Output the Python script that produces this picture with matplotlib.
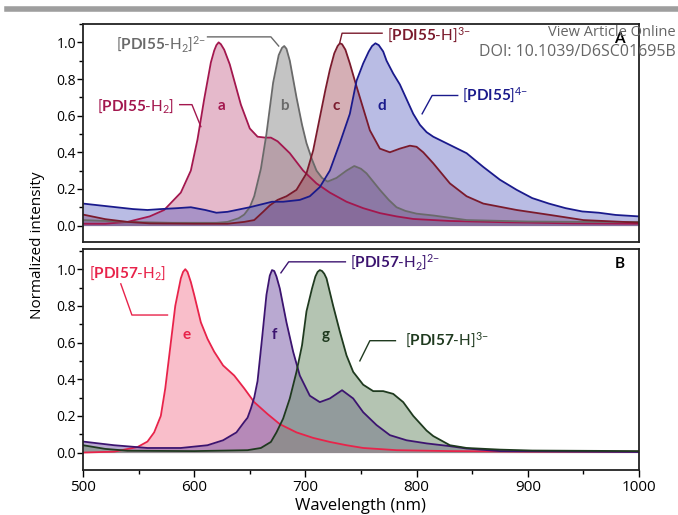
import numpy as np
import matplotlib
matplotlib.use("Agg")
from matplotlib import pyplot as plt
from matplotlib.ticker import MultipleLocator

plt.rcParams['font.family'] = ['Open Sans', 'DejaVu Sans']
plt.rcParams['mathtext.fontset'] = 'custom'
plt.rcParams['mathtext.rm'] = 'Lato'
plt.rcParams['mathtext.it'] = 'Lato:italic'
plt.rcParams['mathtext.bf'] = 'Lato:bold'

# ---- panel A: PDI55 species ----
wl_a = [500, 520, 540, 560, 573, 588, 597, 603, 609, 615, 618, 620, 622, 624, 627, 632, 637, 642, 650, 657,
        664, 669, 675, 686, 698, 710, 722, 737, 752, 767, 782, 797, 830, 880, 940, 1000]
int_a = [0.01, 0.01, 0.02, 0.05, 0.085, 0.18, 0.30, 0.47, 0.69, 0.89, 0.955, 0.985, 1.0, 0.99, 0.96, 0.88, 0.77, 0.66, 0.53, 0.485,
         0.48, 0.48, 0.46, 0.395, 0.30, 0.23, 0.18, 0.13, 0.095, 0.068, 0.05, 0.036, 0.025, 0.018, 0.012, 0.01]

wl_b = [500, 540, 580, 620, 630, 640, 645, 650, 654, 660, 665, 671, 676, 679, 681, 683, 686, 692, 697, 701, 706, 710,
        715, 720, 728, 737, 744, 750, 755, 761, 767, 775, 782, 790, 800, 815, 845, 900, 950, 1000]
int_b = [0.03, 0.02, 0.015, 0.015, 0.02, 0.04, 0.06, 0.10, 0.16, 0.31, 0.50, 0.78, 0.93, 0.97, 0.98, 0.965, 0.90, 0.70, 0.55, 0.45, 0.36, 0.30,
         0.26, 0.24, 0.26, 0.30, 0.325, 0.31, 0.285, 0.24, 0.195, 0.14, 0.10, 0.08, 0.065, 0.055, 0.03, 0.022, 0.02, 0.02]

wl_c = [500, 520, 540, 560, 600, 630, 645, 654, 662, 668, 675, 683, 692, 701, 707, 713, 718, 722, 726, 729, 731,
        733, 736, 740, 745, 749, 758, 767, 776, 785, 794, 800, 806, 815, 830, 845, 860, 890, 920, 950, 1000]
int_c = [0.06, 0.035, 0.02, 0.012, 0.01, 0.01, 0.02, 0.03, 0.075, 0.11, 0.14, 0.16, 0.195, 0.285, 0.41, 0.59, 0.74, 0.85, 0.94, 0.98, 0.995,
         0.99, 0.96, 0.885, 0.78, 0.70, 0.52, 0.42, 0.40, 0.42, 0.436, 0.43, 0.40, 0.34, 0.23, 0.16, 0.12, 0.085, 0.058, 0.03, 0.016]

wl_d = [500, 515, 530, 545, 558, 570, 585, 597, 610, 620, 630, 642, 650, 660, 670, 680, 695, 704, 713, 722,
        731, 740, 746, 752, 757, 760, 763, 766, 770, 773, 779, 785, 791, 797, 803, 809, 815, 830, 845, 860, 875, 890,
        904, 919, 934, 949, 964, 979, 1000]
int_d = [0.12, 0.11, 0.10, 0.09, 0.085, 0.09, 0.095, 0.10, 0.085, 0.07, 0.075, 0.09, 0.10, 0.115, 0.13, 0.13, 0.14, 0.16, 0.21, 0.30,
         0.45, 0.61, 0.79, 0.885, 0.95, 0.98, 0.995, 0.985, 0.95, 0.90, 0.83, 0.77, 0.69, 0.61, 0.55, 0.51, 0.485, 0.44, 0.395, 0.32, 0.25, 0.195,
         0.15, 0.12, 0.095, 0.077, 0.07, 0.058, 0.05]

# ---- panel B: PDI57 species ----
wl_e = [500, 528, 549, 558, 564, 570, 574, 579, 583, 588, 590, 592, 594, 597, 600, 606, 612, 618, 626, 636, 645, 654,
        666, 677, 692, 707, 722, 737, 752, 782, 830, 900, 1000]
int_e = [0.0, 0.005, 0.03, 0.06, 0.11, 0.20, 0.35, 0.60, 0.80, 0.95, 0.985, 1.0, 0.985, 0.93, 0.86, 0.71, 0.62, 0.55, 0.475, 0.42, 0.35, 0.275,
         0.21, 0.155, 0.11, 0.08, 0.058, 0.04, 0.025, 0.013, 0.008, 0.005, 0.005]

wl_f = [500, 528, 558, 588, 612, 626, 638, 645, 648, 651, 654, 657, 661, 665, 668, 670, 672, 674, 677, 683, 689, 695,
        704, 713, 722, 733, 743, 752, 764, 776, 791, 809, 830, 845, 875, 1000]
int_f = [0.06, 0.04, 0.025, 0.025, 0.04, 0.067, 0.11, 0.167, 0.19, 0.24, 0.30, 0.39, 0.62, 0.86, 0.965, 0.995, 0.99, 0.96, 0.895, 0.71, 0.55, 0.42,
         0.31, 0.275, 0.295, 0.34, 0.295, 0.22, 0.15, 0.095, 0.067, 0.05, 0.035, 0.022, 0.008, 0.003]

wl_g = [500, 520, 540, 600, 648, 660, 669, 674, 680, 686, 692, 697, 701, 706, 709, 711, 713, 715, 717, 719, 725, 731,
        737, 743, 752, 761, 770, 779, 788, 797, 809, 815, 830, 845, 875, 904, 1000]
int_g = [0.04, 0.02, 0.01, 0.008, 0.013, 0.025, 0.058, 0.11, 0.185, 0.295, 0.44, 0.585, 0.77, 0.895, 0.96, 0.985, 0.995, 0.99, 0.975, 0.95, 0.80, 0.66,
         0.53, 0.44, 0.37, 0.335, 0.335, 0.32, 0.275, 0.20, 0.12, 0.09, 0.04, 0.025, 0.016, 0.011, 0.008]

yticks = [0.0, 0.2, 0.4, 0.6, 0.8, 1.0]
xticks = [500, 600, 700, 800, 900, 1000]

series_top = [
    (wl_a, int_a, '#a3174e', '#c25a84', 0.42),
    (wl_b, int_b, '#6a6a6a', '#858585', 0.48),
    (wl_c, int_c, '#7a1a2c', '#963848', 0.40),
    (wl_d, int_d, '#1a1a8c', '#5a60c0', 0.42),
]
series_bot = [
    (wl_e, int_e, '#e8234a', '#f58aa0', 0.55),
    (wl_f, int_f, '#3c1470', '#7a5aa8', 0.52),
    (wl_g, int_g, '#1f3a1f', '#6f8f6c', 0.52),
]

fig = plt.figure(figsize=(6.78, 5.15), dpi=100)
ax1 = fig.add_axes([0.1224, 0.530, 0.820, 0.4233])
ax2 = fig.add_axes([0.1224, 0.0874, 0.820, 0.4291])

for ax, series in ((ax1, series_top), (ax2, series_bot)):
    for wl, val, lc, fc, al in series:
        ax.fill_between(wl, val, 0, color=fc, alpha=al, lw=0)
        ax.plot(wl, val, color=lc, lw=1.3)
    ax.set_xlim(500, 1000)
    ax.set_yticks(yticks)
    ax.yaxis.set_minor_locator(MultipleLocator(0.1))
    ax.tick_params(axis='y', which='major', direction='out', length=4, width=1, labelsize=10, pad=1)
    ax.tick_params(axis='y', which='minor', direction='out', length=3, width=1)
    ax.set_yticklabels(['%.1f' % t for t in yticks])
    for sp in ax.spines.values():
        sp.set_linewidth(1.3)
        sp.set_color('#222222')

ax1.set_ylim(-0.09, 1.10)
ax2.set_ylim(-0.095, 1.11)
ax1.set_xticks([])
ax2.set_xticks(xticks)
ax2.xaxis.set_minor_locator(MultipleLocator(50))
ax2.tick_params(axis='x', which='major', direction='out', length=5, width=1, labelsize=11, pad=2)
ax2.tick_params(axis='x', which='minor', direction='out', length=3, width=1)

# letters on peaks
fs = 11
ax1.text(625, 0.65, 'a', color='#a3174e', fontsize=fs, fontweight='bold', family='Lato', ha='center', va='center')
ax1.text(681, 0.65, 'b', color='#6a6a6a', fontsize=fs, fontweight='bold', family='Lato', ha='center', va='center')
ax1.text(728, 0.65, 'c', color='#7a1a2c', fontsize=fs, fontweight='bold', family='Lato', ha='center', va='center')
ax1.text(769, 0.65, 'd', color='#1a1a8c', fontsize=fs, fontweight='bold', family='Lato', ha='center', va='center')
ax2.text(593, 0.64, 'e', color='#e8234a', fontsize=fs, fontweight='bold', family='Lato', ha='center', va='center')
ax2.text(672, 0.64, 'f', color='#3c1470', fontsize=fs, fontweight='bold', family='Lato', ha='center', va='center')
ax2.text(718, 0.64, 'g', color='#1f3a1f', fontsize=fs, fontweight='bold', family='Lato', ha='center', va='center')

ax1.text(0.965, 0.93, 'A', transform=ax1.transAxes, fontsize=11, fontweight='bold', family='Lato', ha='center', va='center')
ax2.text(0.965, 0.93, 'B', transform=ax2.transAxes, fontsize=11, fontweight='bold', family='Lato', ha='center', va='center')

# species labels with leader lines (data coordinates)
lfs = 11
ax1.text(530, 0.99, r'[$\mathbf{PDI55}$-H$_2$]$^{2{-}}$', color='#6a6a6a', fontsize=lfs, family='Lato', ha='left', va='center')
ax1.plot([612, 669, 676], [1.03, 1.03, 0.98], color='#6a6a6a', lw=1)
ax1.text(773, 1.04, r'[$\mathbf{PDI55}$-H]$^{3{-}}$', color='#7a1a2c', fontsize=lfs, family='Lato', ha='left', va='center')
ax1.plot([769, 733, 731], [1.05, 1.05, 1.00], color='#7a1a2c', lw=1)
ax1.text(513, 0.65, r'[$\mathbf{PDI55}$-H$_2$]', color='#a3174e', fontsize=lfs, family='Lato', ha='left', va='center')
ax1.plot([587, 598, 606], [0.66, 0.66, 0.54], color='#a3174e', lw=1)
ax1.text(841, 0.71, r'[$\mathbf{PDI55}$]$^{4{-}}$', color='#1a1a8c', fontsize=lfs, family='Lato', ha='left', va='center')
ax1.plot([837, 814, 805], [0.71, 0.71, 0.61], color='#1a1a8c', lw=1)

ax2.text(505, 0.98, r'[$\mathbf{PDI57}$-H$_2$]', color='#e8234a', fontsize=lfs, family='Lato', ha='left', va='center')
ax2.plot([534, 544, 576], [0.92, 0.75, 0.75], color='#e8234a', lw=1)
ax2.text(740, 1.04, r'[$\mathbf{PDI57}$-H$_2$]$^{2{-}}$', color='#3c1470', fontsize=lfs, family='Lato', ha='left', va='center')
ax2.plot([736, 685, 678], [1.04, 1.04, 0.98], color='#3c1470', lw=1)
ax2.text(790, 0.61, r'[$\mathbf{PDI57}$-H]$^{3{-}}$', color='#1f3a1f', fontsize=lfs, family='Lato', ha='left', va='center')
ax2.plot([781, 758, 749], [0.61, 0.61, 0.50], color='#1f3a1f', lw=1)

fig.text(0.055, 0.523, 'Normalized intensity', rotation=90, fontsize=11, ha='center', va='center')
fig.text(0.532, 0.018, 'Wavelength (nm)', fontsize=12, ha='center', va='center')

# page header strip and article notice
fig.add_artist(plt.Line2D([0.011, 1.0], [0.983, 0.983], color='#9e9e9e', lw=4, transform=fig.transFigure))
fig.text(0.997, 0.937, 'View Article Online', color='#666666', fontsize=10.5, ha='right', va='center')
fig.text(0.997, 0.899, 'DOI: 10.1039/D6SC01695B', color='#666666', fontsize=11.5, ha='right', va='center')

fig.savefig('out.png', dpi=100)
